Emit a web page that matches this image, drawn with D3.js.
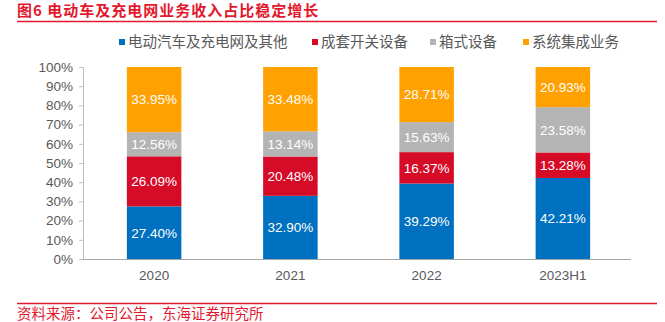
<!DOCTYPE html>
<html>
<head>
<meta charset="utf-8">
<script src="https://cdn.jsdelivr.net/npm/d3@7"></script>
<style>
  body { margin: 0; background: #fff; }
  svg { display: block; font-family: "Liberation Sans", "Noto Sans CJK SC", sans-serif; }
</style>
</head>
<body>
<script>
var categories = ["2020", "2021", "2022", "2023H1"];
var seriesNames = ["电动汽车及充电网及其他", "成套开关设备", "箱式设备", "系统集成业务"];
var evCharging = [27.40, 32.90, 39.29, 42.21];
var switchgear = [26.09, 20.48, 16.37, 13.28];
var boxEquip = [12.56, 13.14, 15.63, 23.58];
var integration = [33.95, 33.48, 28.71, 20.93];
var yTicks = [0, 10, 20, 30, 40, 50, 60, 70, 80, 90, 100];
var colors = ["#0070C0", "#D50B28", "#B4B4B4", "#FFA100"];

var w = 665, h = 322;
var red = "#E2182E";
var cjk = "'Noto Sans CJK SC', sans-serif";

var svg = d3.select("body").append("svg")
  .attr("width", w)
  .attr("height", h);

// title + rule
svg.append("text")
  .attr("x", 17).attr("y", 16)
  .attr("fill", red)
  .style("font-family", cjk)
  .style("font-weight", "bold")
  .style("font-size", "15px")
  .style("letter-spacing", "1px")
  .text("图6  电动车及充电网业务收入占比稳定增长");
svg.append("line")
  .attr("x1", 17).attr("x2", 657).attr("y1", 21.5).attr("y2", 21.5)
  .attr("stroke", red).attr("stroke-width", 1.3);

// build stacked rows
var rows = categories.map(function(c, i) {
  return { cat: c, s0: evCharging[i], s1: switchgear[i], s2: boxEquip[i], s3: integration[i] };
});
var stack = d3.stack().keys(["s0", "s1", "s2", "s3"]);
var layers = stack(rows);

var x = d3.scaleBand().domain(categories).range([86, 631]).paddingInner(0.6).paddingOuter(0.3);
var y = d3.scaleLinear().domain([0, 100]).range([259, 67]);

// y axis
var yAxis = svg.append("g")
  .attr("transform", "translate(83,0)")
  .call(d3.axisLeft(y).tickValues(yTicks).tickFormat(function(d) { return d + "%"; }).tickSize(4).tickPadding(6));
yAxis.select(".domain").attr("stroke", "#BFBFBF");
yAxis.selectAll(".tick line").attr("stroke", "#BFBFBF");
yAxis.selectAll("text").attr("fill", "#595959").style("font-size", "13.5px");

// bars
var g = svg.append("g");
layers.forEach(function(layer, li) {
  g.selectAll(".bar" + li)
    .data(layer)
    .enter()
    .append("rect")
    .attr("x", function(d) { return x(d.data.cat); })
    .attr("y", function(d) { return y(d[1]); })
    .attr("width", x.bandwidth())
    .attr("height", function(d) { return y(d[0]) - y(d[1]); })
    .attr("fill", colors[li]);

  g.selectAll(".lab" + li)
    .data(layer)
    .enter()
    .append("text")
    .attr("x", function(d) { return x(d.data.cat) + x.bandwidth() / 2; })
    .attr("y", function(d) { return (y(d[0]) + y(d[1])) / 2; })
    .attr("dy", "0.36em")
    .attr("text-anchor", "middle")
    .attr("fill", "#fff")
    .style("font-size", "13.5px")
    .text(function(d) { return (d[1] - d[0]).toFixed(2) + "%"; });
});

// x axis
var xAxis = svg.append("g")
  .attr("transform", "translate(0,259)")
  .call(d3.axisBottom(x).tickSize(0).tickPadding(11));
xAxis.select(".domain").attr("stroke", "#A6A6A6").attr("d", "M83,0.5H631");
xAxis.selectAll("text").attr("fill", "#595959").style("font-size", "13.5px");

// legend
var legX = [119, 312, 430, 523];
var leg = svg.selectAll(".leg")
  .data(seriesNames)
  .enter()
  .append("g")
  .attr("transform", function(d, i) { return "translate(" + legX[i] + ",42)"; });
leg.append("rect")
  .attr("x", 0).attr("y", -3)
  .attr("width", 6).attr("height", 6)
  .attr("fill", function(d, i) { return colors[i]; });
leg.append("text")
  .attr("x", 9).attr("y", 0)
  .attr("dy", "0.36em")
  .attr("fill", "#595959")
  .style("font-family", cjk)
  .style("font-size", "14.5px")
  .text(function(d) { return d; });

// source
svg.append("line")
  .attr("x1", 17).attr("x2", 657).attr("y1", 303.5).attr("y2", 303.5)
  .attr("stroke", red).attr("stroke-width", 1.3);
svg.append("text")
  .attr("x", 17).attr("y", 319)
  .attr("fill", red)
  .style("font-family", cjk)
  .style("font-size", "14.5px")
  .text("资料来源：公司公告，东海证券研究所");
</script>
</body>
</html>
